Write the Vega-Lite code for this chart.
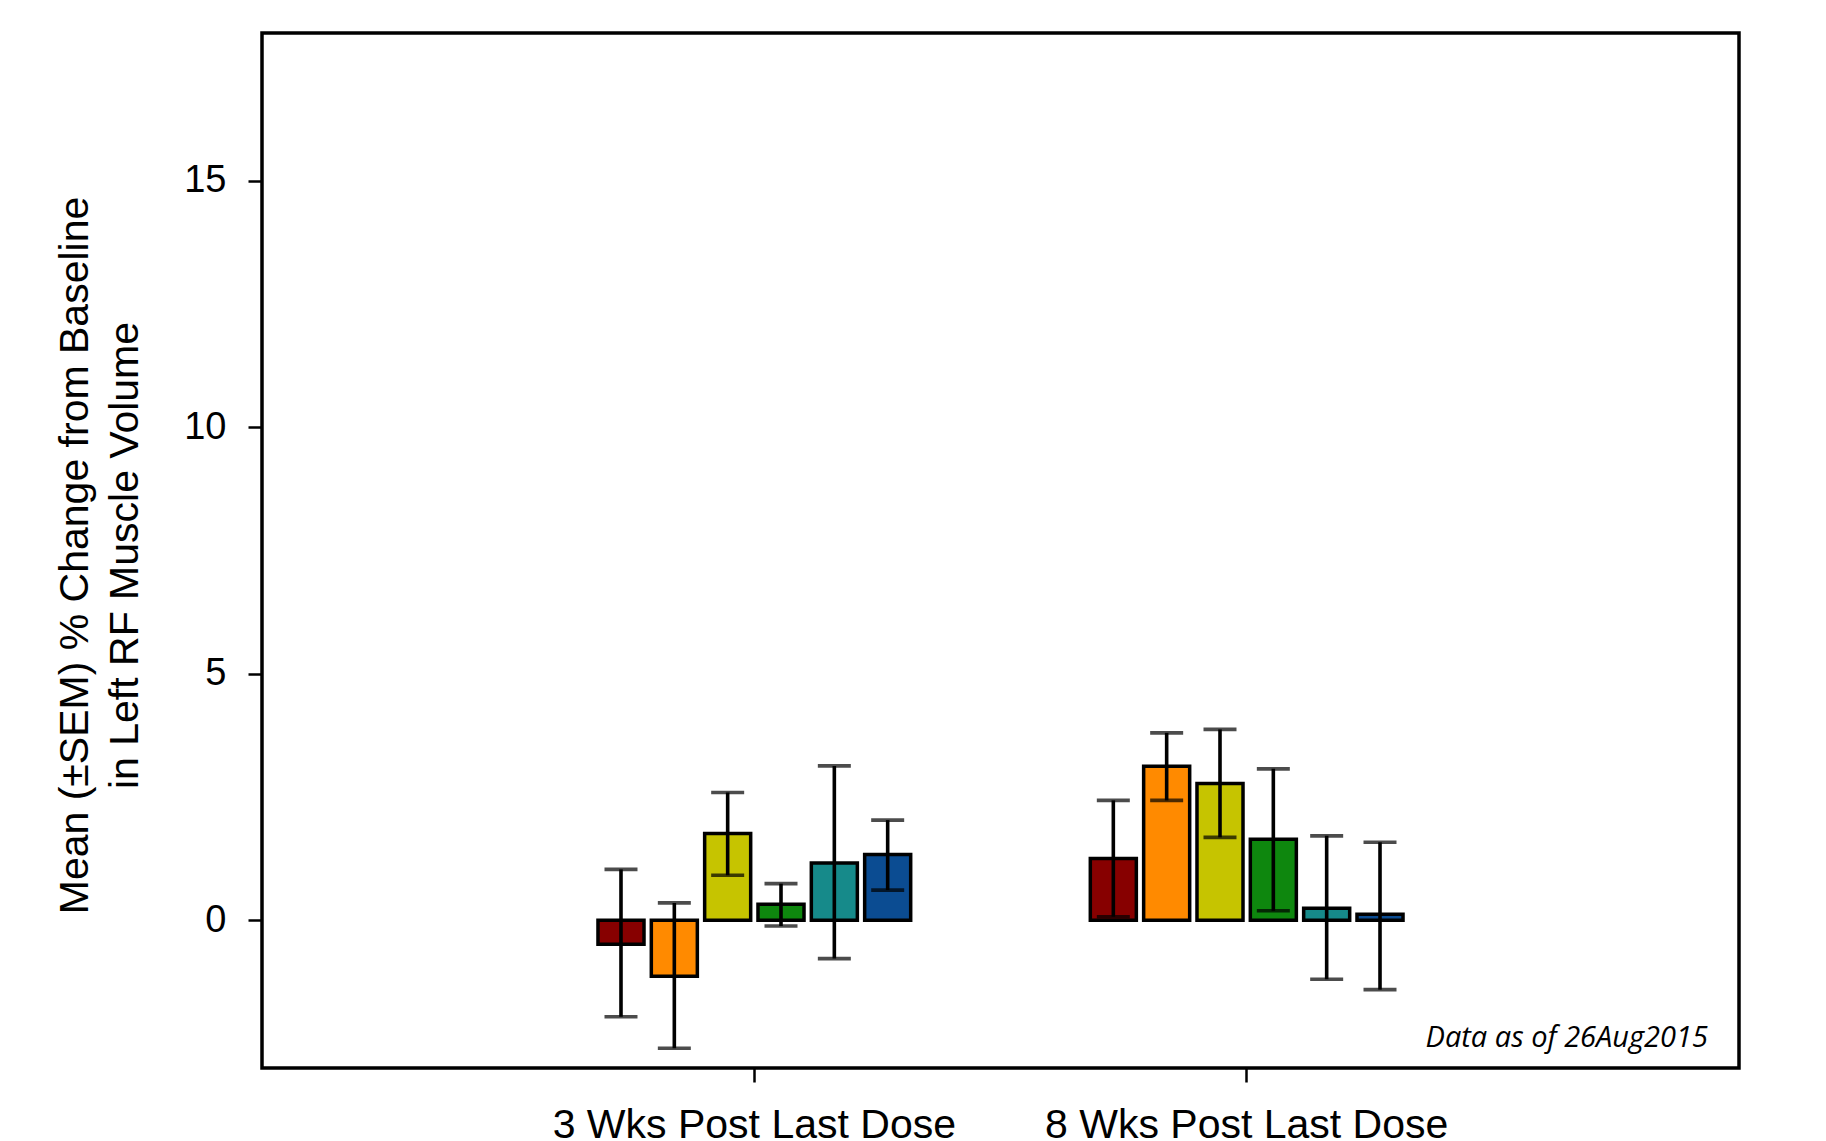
{
  "$schema": "https://vega.github.io/schema/vega-lite/v6.json",
  "width": 1477,
  "height": 1035,
  "autosize": "none",
  "padding": {"left": 262, "top": 33, "right": 87, "bottom": 73},
  "background": "white",
  "config": {
    "view": {"stroke": "black", "strokeWidth": 3.5, "fill": "white"},
    "font": "Liberation Sans"
  },
  "datasets": {
    "bars": [
      {"time": "3 Wks Post Last Dose", "dose": "Dose 1", "mean": -0.49, "low": -1.96, "high": 1.03},
      {"time": "3 Wks Post Last Dose", "dose": "Dose 2", "mean": -1.14, "low": -2.60, "high": 0.35},
      {"time": "3 Wks Post Last Dose", "dose": "Dose 3", "mean": 1.76, "low": 0.91, "high": 2.59},
      {"time": "3 Wks Post Last Dose", "dose": "Dose 4", "mean": 0.32, "low": -0.12, "high": 0.74},
      {"time": "3 Wks Post Last Dose", "dose": "Dose 5", "mean": 1.16, "low": -0.78, "high": 3.13},
      {"time": "3 Wks Post Last Dose", "dose": "Dose 6", "mean": 1.33, "low": 0.61, "high": 2.03},
      {"time": "8 Wks Post Last Dose", "dose": "Dose 1", "mean": 1.25, "low": 0.07, "high": 2.43},
      {"time": "8 Wks Post Last Dose", "dose": "Dose 2", "mean": 3.12, "low": 2.43, "high": 3.80},
      {"time": "8 Wks Post Last Dose", "dose": "Dose 3", "mean": 2.77, "low": 1.68, "high": 3.87},
      {"time": "8 Wks Post Last Dose", "dose": "Dose 4", "mean": 1.64, "low": 0.19, "high": 3.07},
      {"time": "8 Wks Post Last Dose", "dose": "Dose 5", "mean": 0.24, "low": -1.20, "high": 1.71},
      {"time": "8 Wks Post Last Dose", "dose": "Dose 6", "mean": 0.12, "low": -1.41, "high": 1.58}
    ],
    "notes": [{"note": "Data as of 26Aug2015"}]
  },
  "layer": [
    {
      "data": {"name": "bars"},
      "mark": {"type": "bar", "stroke": "black", "strokeWidth": 3.5},
      "encoding": {
        "x": {
          "field": "time", "type": "nominal",
          "scale": {"paddingInner": 0.35, "paddingOuter": 0.675},
          "axis": {
            "title": null, "labelAngle": 0, "labelFontSize": 41, "labelColor": "black",
            "labelPadding": 23, "labelLimit": 0, "tickSize": 14, "tickColor": "black", "tickWidth": 2.5,
            "domain": false, "labelFont": "Liberation Sans"
          }
        },
        "xOffset": {
          "field": "dose", "type": "nominal",
          "scale": {"paddingInner": 0.137, "paddingOuter": 0.0685}
        },
        "y": {
          "field": "mean", "type": "quantitative",
          "scale": {"domain": [-3, 18], "nice": false, "zero": false},
          "axis": {
            "values": [0, 5, 10, 15],
            "title": ["Mean (±SEM) % Change from Baseline", "in Left RF Muscle Volume"],
            "titleFontSize": 41, "titleFontWeight": "normal", "titleColor": "black",
            "titleLineHeight": 50, "titleAngle": -90, "titleBaseline": "middle", "titleAlign": "center",
            "titleX": -187, "titleY": 522,
            "labelFontSize": 38, "labelColor": "black", "labelPadding": 22,
            "tickSize": 14, "tickColor": "black", "tickWidth": 2.5,
            "domain": false, "grid": false
          }
        },
        "y2": {"datum": 0},
        "color": {
          "field": "dose", "type": "nominal",
          "scale": {
            "domain": ["Dose 1", "Dose 2", "Dose 3", "Dose 4", "Dose 5", "Dose 6"],
            "range": ["#870000", "#FF8A00", "#C6C400", "#0E870E", "#168A8A", "#0B4C92"]
          },
          "legend": null
        }
      }
    },
    {
      "mark": {"type": "rule", "color": "black", "strokeWidth": 3},
      "encoding": {"y": {"datum": 0}}
    },
    {
      "data": {"name": "bars"},
      "mark": {"type": "rule", "color": "black", "strokeWidth": 3.6},
      "encoding": {
        "x": {"field": "time", "type": "nominal"},
        "xOffset": {"field": "dose", "type": "nominal"},
        "y": {"field": "low", "type": "quantitative"},
        "y2": {"field": "high"}
      }
    },
    {
      "data": {"name": "bars"},
      "mark": {"type": "tick", "color": "black", "size": 33, "thickness": 3.6, "orient": "horizontal"},
      "encoding": {
        "x": {"field": "time", "type": "nominal"},
        "xOffset": {"field": "dose", "type": "nominal"},
        "y": {"field": "low", "type": "quantitative"}
      }
    },
    {
      "data": {"name": "bars"},
      "mark": {"type": "tick", "color": "black", "size": 33, "thickness": 3.6, "orient": "horizontal"},
      "encoding": {
        "x": {"field": "time", "type": "nominal"},
        "xOffset": {"field": "dose", "type": "nominal"},
        "y": {"field": "high", "type": "quantitative"}
      }
    },
    {
      "data": {"name": "notes"},
      "mark": {"type": "text", "align": "right", "baseline": "alphabetic", "font": "Open Sans", "fontStyle": "italic", "fontSize": 29, "color": "black", "dx": -31},
      "encoding": {
        "x": {"value": "width"},
        "y": {"datum": -2.58},
        "text": {"field": "note"}
      }
    }
  ]
}
